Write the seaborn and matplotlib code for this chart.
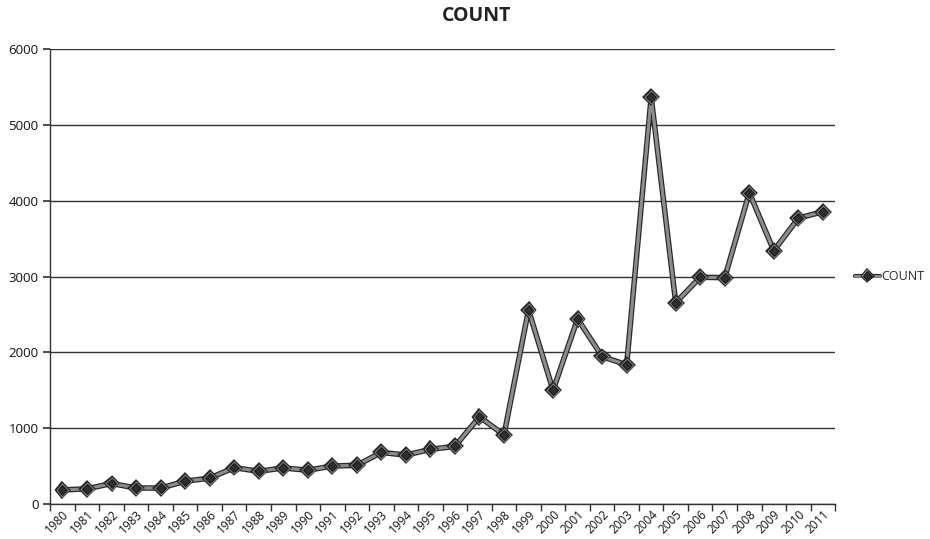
import matplotlib
matplotlib.use("Agg")
import matplotlib.pyplot as plt
import matplotlib.patheffects as pe
from matplotlib.ticker import FixedLocator, MultipleLocator
import pandas as pd
import seaborn as sns

years = [str(y) for y in range(1980, 2012)]
counts = [185, 200, 270, 210, 210, 300, 340, 480, 430, 475, 445, 500, 510,
          680, 645, 720, 760, 1150, 910, 2560, 1500, 2440, 1945, 1835, 5365,
          2655, 2990, 2985, 4105, 3340, 3770, 3855]
series_name = "COUNT"

sns.set_theme(style="white")
plt.rcParams["font.family"] = ["Open Sans", "DejaVu Sans"]

df = pd.DataFrame({"year": years, "count": counts})

fig = plt.figure(figsize=(9.3, 5.39), dpi=100)
ax = fig.add_axes([0.054, 0.065, 0.844, 0.844])

line_fx = [pe.Stroke(linewidth=4.0, foreground="#2a2a2a"),
           pe.Stroke(linewidth=2.0, foreground="#8c8c8c")]
sns.lineplot(data=df, x="year", y="count", ax=ax, sort=False,
             color="#8c8c8c", linewidth=2.0, marker="D", markersize=5,
             markerfacecolor="#2e2e2e", markeredgecolor="#1a1a1a",
             markeredgewidth=0.8, label=series_name)
for ln in ax.lines:
    ln.set_path_effects(line_fx + [pe.Normal()])

ax.set_xlim(-0.5, len(years) - 0.5)
ax.set_ylim(0, 6000)
ax.yaxis.set_major_locator(MultipleLocator(1000))
ax.grid(axis="y", color="#333333", linewidth=1.0)
ax.set_axisbelow(True)

for side in ["top", "right"]:
    ax.spines[side].set_visible(False)
for side in ["left", "bottom"]:
    ax.spines[side].set_color("#333333")
    ax.spines[side].set_linewidth(1.0)

ax.set_xticks(range(len(years)))
ax.set_xticklabels(years, rotation=45, ha="right", rotation_mode="anchor",
                   fontsize=8.5, color="#111111")
ax.xaxis.set_minor_locator(FixedLocator([i - 0.5 for i in range(len(years) + 1)]))
ax.tick_params(axis="x", which="major", length=0, pad=3)
ax.tick_params(axis="x", which="minor", length=5, color="#333333", bottom=True)
ax.tick_params(axis="y", which="major", length=5, color="#333333", left=True,
               labelsize=9.5, labelcolor="#111111")
ax.set_xlabel("")
ax.set_ylabel("")

ax.set_title("COUNT", fontsize=14, fontweight="bold", color="#222222",
             pad=20, x=0.543)

leg = ax.legend(loc="center left", bbox_to_anchor=(1.025, 0.5), frameon=False,
                fontsize=9, handlelength=2.0, handletextpad=0.1,
                borderaxespad=0, borderpad=0)
for h in leg.get_lines():
    h.set_path_effects([pe.Stroke(linewidth=3.0, foreground="#2a2a2a"),
                        pe.Stroke(linewidth=1.4, foreground="#8c8c8c"),
                        pe.Normal()])
    h.set_markersize(4.5)

fig.savefig("out.png", dpi=100)
